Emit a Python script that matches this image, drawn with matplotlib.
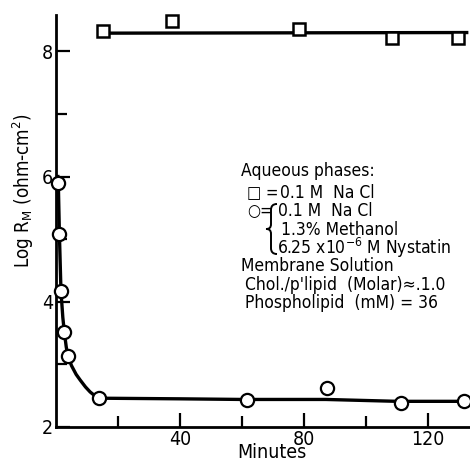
import numpy as np
import matplotlib
matplotlib.use("Agg")
import matplotlib.pyplot as plt
from matplotlib.path import Path
from matplotlib.patches import PathPatch

plt.rcParams['font.family'] = ['DejaVu Sans']
plt.rcParams['font.stretch'] = 'condensed'

# Square points: 0.1M NaCl
sq_min = [15.2, 37.3, 78.5, 108.5, 129.6]
sq_log = [8.33, 8.48, 8.35, 8.21, 8.22]
sq_fit_min = [15.0, 133.0]
sq_fit_log = [8.29, 8.30]

# Circle points: NaCl + methanol + nystatin
ci_min = [0.75, 1.1, 1.6, 2.7, 3.8, 13.8, 61.5, 87.3, 111.3, 131.6]
ci_log = [5.89, 5.08, 4.17, 3.51, 3.14, 2.46, 2.43, 2.63, 2.39, 2.42]
# hand drawn curve through the circles
ci_fit_min = [0.6, 0.75, 1.1, 1.6, 2.2, 2.7, 3.3, 3.8, 5.0, 6.5, 7.8, 9.5, 11.0, 12.5, 13.8, 40.0, 60.0, 87.0, 110.0, 133.0]
ci_fit_log = [6.0, 5.89, 5.08, 4.17, 3.75, 3.51, 3.28, 3.14, 2.98, 2.84, 2.75, 2.64, 2.56, 2.50, 2.46, 2.45, 2.44, 2.44, 2.41, 2.41]

x_major = [40, 80, 120]
x_minor = [20, 60, 100]
y_major = [2, 4, 6, 8]
y_minor = [3, 5, 7]

W, H = 470, 463
fig = plt.figure(figsize=(W / 100, H / 100), dpi=100)
ax = fig.add_axes([56 / W, 1 - 427 / H, (469 - 56) / W, (427 - 15) / H])

ax.plot(sq_fit_min, sq_fit_log, color='black', lw=2.4, solid_capstyle='butt')
ax.plot(ci_fit_min, ci_fit_log, color='black', lw=2.4)
ax.plot(sq_min, sq_log, ls='none', marker='s', ms=8, mfc='white', mec='black', mew=1.8, clip_on=False)
ax.plot(ci_min, ci_log, ls='none', marker='o', ms=9.5, mfc='white', mec='black', mew=1.6, clip_on=False, zorder=5)

ax.set_xlim(0, 133.2)
ax.set_ylim(2, 8.58)
ax.set_xticks(x_major)
ax.set_xticks(x_minor, minor=True)
ax.set_yticks(y_major)
ax.set_yticks(y_minor, minor=True)
ax.tick_params(which='both', direction='in', width=1.6, labelsize=14)
ax.tick_params(which='major', length=10, pad=2)
ax.tick_params(which='minor', length=8)
for s in ['top', 'right']:
    ax.spines[s].set_visible(False)
for s in ['left', 'bottom']:
    ax.spines[s].set_linewidth(2)

fig.text(272 / W, 1 - 453 / H, 'Minutes', ha='center', va='center', fontsize=14)
fig.text(23 / W, 1 - 191 / H, 'Log R$_\\mathregular{M}$ (ohm-cm$^\\mathregular{2}$)',
         ha='center', va='center', rotation=90, fontsize=13.5)

def ftext(x, y, s, fs=12.5):
    fig.text(x / W, 1 - y / H, s, ha='left', va='center', fontsize=fs)

ftext(241, 171, 'Aqueous phases:')
ftext(247, 193, '\u25a1 =', fs=12)
ftext(280, 193, '0.1 M  Na Cl')
ftext(247, 211, '\u25cb=', fs=12)
ftext(278, 211, '0.1 M  Na Cl')
ftext(281, 230, '1.3% Methanol')
ftext(277, 248, '6.25 x10$^\\mathregular{-6}$ M Nystatin')
ftext(241, 266, 'Membrane Solution')
ftext(245, 285, "Chol./p'lipid  (Molar)\u2248.1.0")
ftext(245, 303, 'Phospholipid  (mM) = 36')

# brace grouping the circle phases
def px(x, y):
    return (x / W, 1 - y / H)
verts = [px(277, 204),
         px(273, 204), px(271, 206), px(271, 210),
         px(271, 224),
         px(271, 228), px(269, 229), px(266, 229),
         px(269, 229), px(271, 230), px(271, 234),
         px(271, 248),
         px(271, 252), px(273, 254), px(277, 254)]
codes = [Path.MOVETO,
         Path.CURVE4, Path.CURVE4, Path.CURVE4,
         Path.LINETO,
         Path.CURVE4, Path.CURVE4, Path.CURVE4,
         Path.CURVE4, Path.CURVE4, Path.CURVE4,
         Path.LINETO,
         Path.CURVE4, Path.CURVE4, Path.CURVE4]
fig.patches.append(PathPatch(Path(verts, codes), fill=False, lw=1.4, color='black',
                             transform=fig.transFigure))

fig.savefig('out.png', dpi=100)
